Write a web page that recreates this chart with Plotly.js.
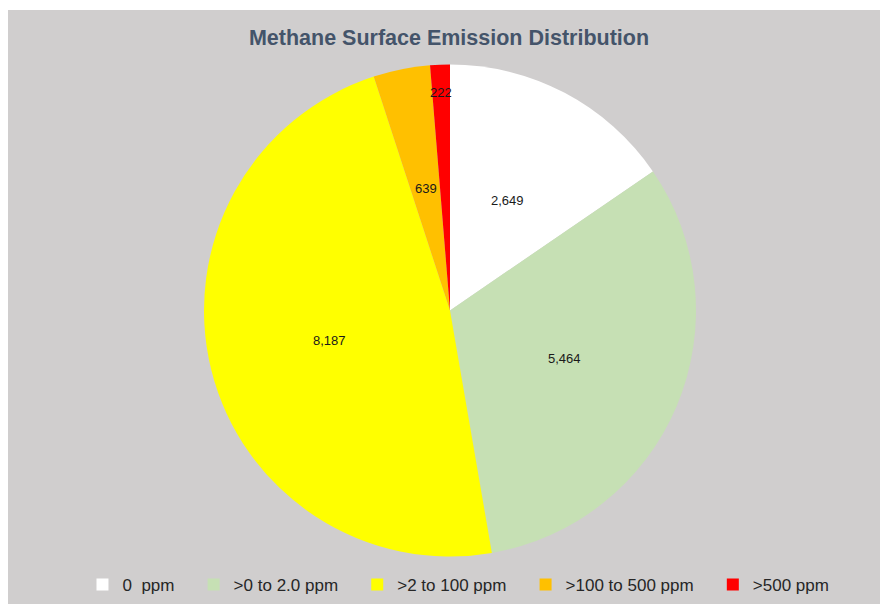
<!DOCTYPE html>
<html>
<head>
<meta charset="utf-8">
<script src="https://cdn.plot.ly/plotly-3.0.1.min.js"></script>
<style>html,body{margin:0;padding:0;background:#fff;}#chart{width:880px;height:604px;}</style>
</head>
<body>
<div id="chart"></div>
<script>
const categories = ["0\u00a0 ppm", ">0 to 2.0 ppm", ">2 to 100 ppm", ">100 to 500 ppm", ">500 ppm"];
const counts = [2649, 5464, 8187, 639, 222];
const sliceColors = ["#FFFFFF", "#C6E0B4", "#FFFF00", "#FFC000", "#FF0000"];

// pie geometry (pixels) -> domain
const W = 880, H = 604;
const pieLeft = 204, pieRight = 696, pieTop = 64, pieBottom = 557;
const domX = [pieLeft / W, pieRight / W];
const domY = [1 - pieBottom / H, 1 - pieTop / H];

// legend labels padded with trailing non-breaking spaces for wider item spacing
const legendNames = categories.map((c, i) => i < categories.length - 1 ? c + "\u00a0\u00a0\u00a0" : c);

const trace = {
  type: "pie",
  labels: legendNames,
  values: counts,
  sort: false,
  direction: "clockwise",
  rotation: 0,
  marker: { colors: sliceColors, line: { width: 0 } },
  textinfo: "none",
  hoverinfo: "label+value",
  domain: { x: domX, y: domY }
};

// data labels placed at each slice's mid-angle (computed from the values)
const total = counts.reduce((a, b) => a + b, 0);
const cx = (domX[0] + domX[1]) / 2, cy = (domY[0] + domY[1]) / 2;
const Rpx = Math.min(pieRight - pieLeft, pieBottom - pieTop) / 2;
let cum = 0;
const labelAnnotations = counts.map(v => {
  const mid = (cum + v / 2) / total * 2 * Math.PI;
  cum += v;
  const frac = v / total < 0.02 ? 0.885 : 0.505;
  const r = Rpx * frac;
  return {
    xref: "paper", yref: "paper",
    x: cx + r * Math.sin(mid) / W,
    y: cy + r * Math.cos(mid) / H,
    xanchor: "center", yanchor: "middle",
    text: v.toLocaleString("en-US"),
    showarrow: false,
    font: { family: "Liberation Sans, Arial, sans-serif", size: 13, color: "#1a1a1a" }
  };
});

const layout = {
  width: W, height: H,
  margin: { l: 0, r: 0, t: 0, b: 0 },
  paper_bgcolor: "#FFFFFF",
  showlegend: true,
  title: {
    text: "<b>Methane Surface Emission Distribution</b>",
    font: { family: "Liberation Sans, Arial, sans-serif", size: 21.5, color: "#44546A" },
    x: 449 / W, xanchor: "center", y: 1 - 37 / H, yanchor: "middle"
  },
  legend: {
    orientation: "h", x: 0.521, xanchor: "center", y: 1 - 585 / H, yanchor: "middle",
    font: { family: "Liberation Sans, Arial, sans-serif", size: 17, color: "#262626" },
    bgcolor: "rgba(0,0,0,0)", traceorder: "normal", itemclick: false
  },
  annotations: labelAnnotations,
  shapes: [{
    type: "rect", xref: "paper", yref: "paper", layer: "below",
    x0: 8 / W, x1: 1, y0: 0, y1: 1 - 10 / H,
    fillcolor: "#D0CECE", line: { width: 0 }
  }]
};

Plotly.newPlot("chart", [trace], layout, { displayModeBar: false, staticPlot: true });
</script>
</body>
</html>
